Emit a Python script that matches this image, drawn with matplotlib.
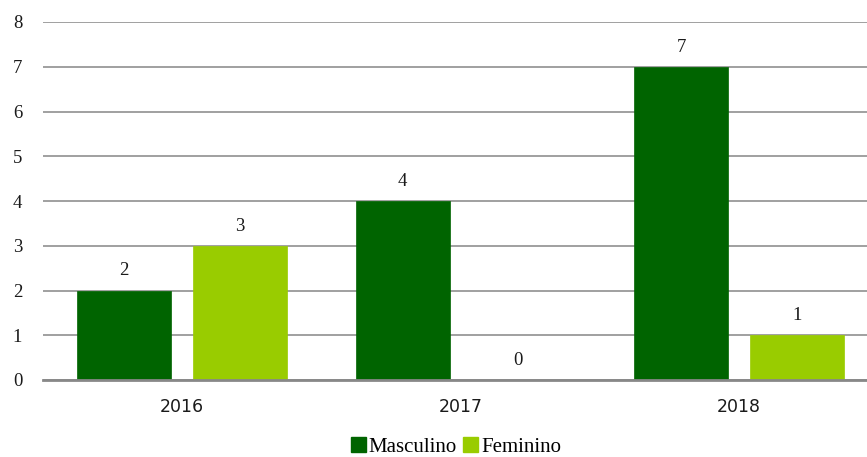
import matplotlib
matplotlib.use("Agg")
import matplotlib.pyplot as plt
import numpy as np
from matplotlib.patches import Patch

years = ["2016", "2017", "2018"]
masculino = [2, 4, 7]
feminino = [3, 0, 1]
series_names = ["Masculino", "Feminino"]
colors = ["#006400", "#99CC00"]

fig = plt.figure(figsize=(8.67, 4.57), dpi=100)
ax = fig.add_axes([43 / 867, 1 - 380 / 457, 835 / 867, 358 / 457])

x = np.arange(len(years))
width = 0.3375
offset = 0.208

for vals, shift, color in ((masculino, -offset, colors[0]), (feminino, offset, colors[1])):
    bars = ax.bar(x + shift, vals, width, color=color, edgecolor=color, linewidth=0.5, zorder=3)
    for bar, v in zip(bars, vals):
        ax.annotate(str(v), (bar.get_x() + bar.get_width() / 2, v),
                    xytext=(0, 8), textcoords="offset points", ha="center", va="bottom",
                    fontsize=13.5, family="Liberation Serif", color="#1a1a1a")

ax.set_xlim(-0.5, 2.5)
ax.set_ylim(0, 8)
ax.set_yticks(range(0, 9))
ax.set_xticks(x)
ax.set_xticklabels(years, family="DejaVu Sans", fontsize=12.5)
for lab in ax.get_yticklabels():
    lab.set_family("Liberation Serif")
    lab.set_fontsize(13.5)
ax.tick_params(axis="both", length=0, colors="#1a1a1a")
ax.tick_params(axis="y", pad=15)
ax.tick_params(axis="x", pad=13)
ax.yaxis.grid(True, color="#a0a0a0", linewidth=1.4, zorder=0)
for side in ("left", "right", "top"):
    ax.spines[side].set_visible(False)
ax.spines["bottom"].set_color("#888888")
ax.spines["bottom"].set_linewidth(2)
ax.spines["bottom"].set_zorder(4)

handles = [Patch(facecolor=c, edgecolor=c) for c in colors]
fig.legend(handles, series_names, loc="center", bbox_to_anchor=(0.526, 0.022),
           ncol=2, frameon=False, handlelength=0.7, handleheight=0.7,
           handletextpad=0.15, columnspacing=0.3,
           prop={"family": "Liberation Serif", "size": 15})

fig.savefig("out.png", dpi=100)
